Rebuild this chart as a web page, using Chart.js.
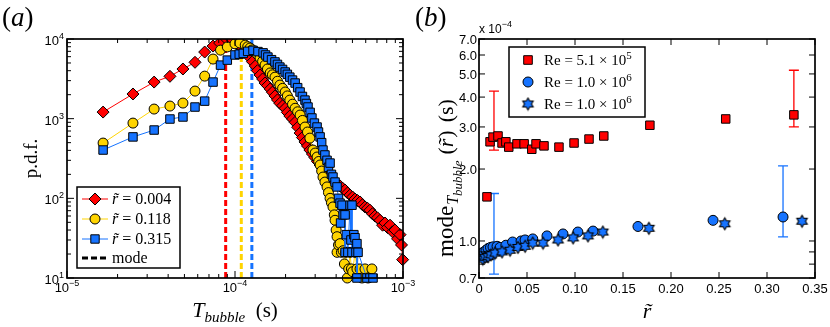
<!DOCTYPE html>
<html>
<head>
  <title>Bubble duration pdf and mode</title>
  <script src="https://cdn.jsdelivr.net/npm/chart.js"></script>
  <style>
    body { margin: 0; background: #fff; }
    #wrap { position: relative; width: 830px; height: 327px; overflow: hidden; }
    canvas { position: absolute; top: 0; }
    #chart-a { left: 0; }
    #chart-b { left: 415px; }
  </style>
</head>
<body>
<div id="wrap">
  <canvas id="chart-a" width="430" height="327"></canvas>
  <canvas id="chart-b" width="415" height="327"></canvas>
</div>
<script>
// ---------- panel (a): p.d.f. of T_bubble ----------
const redT = [1.64e-5, 2.47e-5, 3.30e-5, 4.10e-5, 4.90e-5, 5.78e-5, 6.60e-5, 7.40e-5, 8.10e-5, 8.80e-5,
  9.60e-5, 1.03e-4, 1.09e-4, 1.15e-4, 1.19e-4, 1.23e-4, 1.27e-4, 1.32e-4, 1.36e-4, 1.41e-4,
  1.46e-4, 1.51e-4, 1.56e-4, 1.62e-4, 1.67e-4, 1.73e-4, 1.79e-4, 1.85e-4, 1.92e-4, 1.99e-4,
  2.05e-4, 2.12e-4, 2.20e-4, 2.28e-4, 2.36e-4, 2.44e-4, 2.52e-4, 2.61e-4, 2.70e-4, 2.79e-4,
  2.89e-4, 2.99e-4, 3.10e-4, 3.21e-4, 3.32e-4, 3.43e-4, 3.55e-4, 3.68e-4, 3.81e-4, 3.94e-4,
  4.08e-4, 4.22e-4, 4.37e-4, 4.52e-4, 4.68e-4, 4.84e-4, 5.01e-4, 5.18e-4, 5.36e-4, 5.55e-4,
  5.74e-4, 5.94e-4, 6.15e-4, 6.36e-4, 6.58e-4, 6.81e-4, 7.05e-4, 7.30e-4, 7.56e-4, 7.82e-4,
  8.09e-4, 8.37e-4, 8.66e-4, 8.96e-4, 9.28e-4, 9.60e-4, 9.80e-4, 9.95e-4];
const redPdf = [1210, 2040, 2880, 3400, 4200, 5100, 6860, 8150, 8900, 10200,
  9800, 8600, 7900, 7250, 6400, 5800, 5200, 4580, 4000, 3530,
  3150, 2800, 2600, 2360, 2150, 1930, 1720, 1560, 1450, 1350,
  1200, 1080, 990, 900, 780, 660, 580, 510, 455, 404,
  360, 325, 290, 262, 236, 215, 195, 180, 166, 156,
  150, 143, 134, 127, 117, 110, 104, 98, 94, 90,
  83, 78, 75, 71, 64, 60, 57, 53, 46, 49,
  43, 46, 38, 40, 31, 35, 26, 17];

const yelT = [1.64e-5, 2.47e-5, 3.30e-5, 4.10e-5, 4.90e-5, 5.78e-5, 6.60e-5, 7.40e-5, 8.20e-5, 9.00e-5,
  1.00e-4, 1.07e-4, 1.15e-4, 1.19e-4, 1.23e-4, 1.27e-4, 1.32e-4, 1.36e-4, 1.41e-4, 1.46e-4,
  1.51e-4, 1.56e-4, 1.62e-4, 1.67e-4, 1.73e-4, 1.79e-4, 1.85e-4, 1.92e-4, 1.99e-4, 2.05e-4,
  2.12e-4, 2.20e-4, 2.28e-4, 2.36e-4, 2.44e-4, 2.52e-4, 2.61e-4, 2.70e-4, 2.79e-4, 2.91e-4,
  3.00e-4, 3.08e-4, 3.15e-4, 3.21e-4, 3.28e-4, 3.34e-4, 3.43e-4, 3.53e-4, 3.60e-4, 3.68e-4,
  3.75e-4, 3.83e-4, 3.90e-4, 3.94e-4, 4.00e-4, 4.05e-4, 4.05e-4, 4.13e-4, 4.22e-4, 4.30e-4,
  4.40e-4, 4.48e-4, 4.57e-4, 4.66e-4, 4.75e-4, 4.84e-4, 4.93e-4, 5.02e-4, 5.18e-4, 5.32e-4,
  5.55e-4, 5.70e-4, 5.94e-4, 6.19e-4, 6.53e-4];
const yelPdf = [494, 880, 1320, 1440, 1570, 2220, 3420, 5600, 7250, 7950,
  8700, 8900, 8380, 8000, 7700, 7300, 6950, 6400, 5800, 5250,
  4710, 4200, 3750, 3550, 3320, 2950, 2640, 2400, 2160, 1930,
  1710, 1520, 1350, 1220, 1110, 950, 785, 680, 570, 404,
  370, 330, 290, 262, 220, 185, 160, 139, 118, 100,
  88, 78, 62, 53, 40, 33, 21, 26, 27, 21,
  22, 15, 21, 10, 13, 21, 13, 12, 21, 13,
  13, 10, 13, 10, 13];

const bluT = [1.64e-5, 2.47e-5, 3.30e-5, 4.10e-5, 4.90e-5, 5.78e-5, 6.60e-5, 7.40e-5, 8.20e-5, 9.00e-5,
  1.00e-4, 1.06e-4, 1.12e-4, 1.19e-4, 1.28e-4, 1.37e-4, 1.47e-4, 1.52e-4, 1.57e-4, 1.65e-4,
  1.73e-4, 1.79e-4, 1.85e-4, 1.92e-4, 1.99e-4, 2.05e-4, 2.12e-4, 2.20e-4, 2.28e-4, 2.36e-4,
  2.44e-4, 2.52e-4, 2.61e-4, 2.66e-4, 2.72e-4, 2.80e-4, 2.87e-4, 2.97e-4, 3.08e-4, 3.14e-4,
  3.21e-4, 3.28e-4, 3.34e-4, 3.43e-4, 3.53e-4, 3.60e-4, 3.68e-4, 3.75e-4, 3.83e-4, 3.94e-4,
  4.05e-4, 4.13e-4, 4.22e-4, 4.25e-4, 4.34e-4, 4.40e-4, 4.52e-4, 4.52e-4, 4.60e-4, 4.70e-4,
  4.84e-4, 4.90e-4, 4.97e-4, 4.97e-4, 5.10e-4, 5.18e-4, 5.25e-4, 5.32e-4, 5.32e-4, 5.40e-4,
  6.10e-4, 6.63e-4];
const bluPdf = [404, 590, 720, 990, 1050, 1400, 1660, 2880, 4700, 5430,
  6300, 6450, 6600, 7000, 7200, 6950, 6700, 6300, 5930, 5500,
  5150, 4800, 4440, 4150, 3850, 3600, 3320, 3050, 2800, 2450,
  2160, 1900, 1710, 1550, 1400, 1200, 1020, 880, 785, 680,
  590, 500, 404, 350, 300, 245, 277, 200, 185, 160,
  139, 100, 87, 49, 82, 62, 62, 21, 35, 21,
  82, 30, 82, 21, 35, 32, 21, 27, 10, 21,
  10, 10];

const rTildeLabels = ['0.004', '0.118', '0.315'];
const modeT = [8.8e-5, 1.09e-4, 1.26e-4];        // dashed "mode" lines
const xTicksA = [1e-5, 1e-4, 1e-3];
const xExpA = ['\u22125', '\u22124', '\u22123'];
const yTicksA = [10, 100, 1000, 10000];
const yExpA = ['1', '2', '3', '4'];

// ---------- panel (b): mode vs r~ (units of 1e-4 s) ----------
const sqX = [0.0083, 0.0115, 0.0146, 0.0198, 0.024, 0.028, 0.031, 0.0396, 0.047, 0.055,
  0.0594, 0.0677, 0.0833, 0.099, 0.1146, 0.130, 0.178, 0.257, 0.328];
const sqY = [1.53, 2.60, 2.72, 2.75, 2.57, 2.60, 2.47, 2.55, 2.55, 2.42,
  2.55, 2.50, 2.47, 2.57, 2.67, 2.75, 3.05, 3.24, 3.37];
const circX = [0.003, 0.005, 0.0073, 0.0094, 0.012, 0.0146, 0.0188, 0.022, 0.028, 0.035,
  0.0438, 0.048, 0.056, 0.0708, 0.0875, 0.103, 0.1188, 0.1656, 0.2438, 0.3167];
const circY = [0.89, 0.90, 0.915, 0.93, 0.94, 0.945, 0.95, 0.94, 0.96, 0.99,
  1.00, 1.01, 1.02, 1.05, 1.07, 1.09, 1.10, 1.15, 1.22, 1.26];
const starX = [0.004, 0.0063, 0.0094, 0.0125, 0.0167, 0.024, 0.0323, 0.0406, 0.048, 0.056,
  0.0667, 0.0823, 0.098, 0.1135, 0.129, 0.177, 0.256, 0.3365];
const starY = [0.84, 0.855, 0.86, 0.875, 0.89, 0.90, 0.915, 0.94, 0.95, 0.98,
  0.98, 1.01, 1.03, 1.05, 1.09, 1.13, 1.18, 1.21];
const redErrX = [0.0156, 0.328], redErrLo = [2.40, 3.00], redErrHi = [4.24, 5.18];
const bluErrX = [0.0156, 0.3167], bluErrLo = [0.727, 1.04], bluErrHi = [1.58, 2.06];
const reLabels = [['5.1', '5'], ['1.0', '6'], ['1.0', '6']];
const xTicksB = [0, 0.05, 0.10, 0.15, 0.20, 0.25, 0.30, 0.35];
const xLabB = ['0', '0.05', '0.10', '0.15', '0.20', '0.25', '0.30', '0.35'];
const yTicksB = [0.7, 1.0, 2.0, 3.0, 4.0, 5.0, 6.0, 7.0];
const yMinorB = [0.8, 0.9];

const RED = '#ff0000', YEL = '#ffd400', BLU = '#1673ff';
const SANS = 'Liberation Sans, Arial, sans-serif';
const SERIF = 'Liberation Serif, DejaVu Serif, serif';

const pts = (xs, ys) => xs.map((x, i) => ({x: x, y: ys[i]}));

// six-pointed star marker
function makeStar(R) {
  const c = document.createElement('canvas');
  const s = Math.ceil(2 * R + 3);
  c.width = s; c.height = s;
  const g = c.getContext('2d');
  g.beginPath();
  for (let k = 0; k < 12; k++) {
    const a = -Math.PI / 2 + k * Math.PI / 6;
    const r = k % 2 === 0 ? R : R / Math.sqrt(3);
    const px = s / 2 + r * Math.cos(a), py = s / 2 + r * Math.sin(a);
    k === 0 ? g.moveTo(px, py) : g.lineTo(px, py);
  }
  g.closePath();
  g.fillStyle = BLU; g.fill();
  g.lineWidth = 1.1; g.strokeStyle = '#000'; g.stroke();
  return c;
}
const starImg = makeStar(6);

function mark(ctx, style, x, y, r, fill) {
  ctx.save();
  ctx.fillStyle = fill; ctx.strokeStyle = '#000'; ctx.lineWidth = 1;
  ctx.beginPath();
  if (style === 'diamond') {
    ctx.moveTo(x, y - r); ctx.lineTo(x + r, y); ctx.lineTo(x, y + r); ctx.lineTo(x - r, y); ctx.closePath();
  } else if (style === 'circle') {
    ctx.arc(x, y, r, 0, 2 * Math.PI);
  } else {
    ctx.rect(x - r, y - r, 2 * r, 2 * r);
  }
  ctx.fill(); ctx.stroke();
  ctx.restore();
}

// draws a run of [text, font, dy] pieces on one baseline
function runs(ctx, parts, x, y, align) {
  let w = 0;
  parts.forEach(p => { ctx.font = p[1]; w += ctx.measureText(p[0]).width + (p[3] || 0); });
  let cx = align === 'center' ? x - w / 2 : (align === 'right' ? x - w : x);
  ctx.textAlign = 'left'; ctx.textBaseline = 'alphabetic';
  parts.forEach(p => { ctx.font = p[1]; ctx.fillText(p[0], cx, y + (p[2] || 0)); cx += ctx.measureText(p[0]).width + (p[3] || 0); });
}

function frame(ctx, a) {
  ctx.save();
  ctx.strokeStyle = '#000'; ctx.lineWidth = 1.7;
  ctx.strokeRect(a.left, a.top, a.right - a.left, a.bottom - a.top);
  ctx.restore();
}

function tickX(ctx, a, px, len) {
  ctx.beginPath();
  ctx.moveTo(px, a.bottom); ctx.lineTo(px, a.bottom - len);
  ctx.moveTo(px, a.top); ctx.lineTo(px, a.top + len);
  ctx.stroke();
}
function tickY(ctx, a, py, len) {
  ctx.beginPath();
  ctx.moveTo(a.left, py); ctx.lineTo(a.left + len, py);
  ctx.moveTo(a.right, py); ctx.lineTo(a.right - len, py);
  ctx.stroke();
}

// ---------- panel (a) decorations ----------
const decoA = {
  id: 'decoA',
  afterDraw(chart) {
    const ctx = chart.ctx, a = chart.chartArea;
    const xs = chart.scales.x, ys = chart.scales.y;
    frame(ctx, a);
    ctx.save();
    ctx.strokeStyle = '#000'; ctx.lineWidth = 1;
    for (let d = -5; d < -3 + 1; d++) {
      for (let m = 1; m < 10; m++) {
        const v = m * Math.pow(10, d);
        if (v > 1.0001e-3) break;
        tickX(ctx, a, xs.getPixelForValue(v), m === 1 ? 7 : 4);
      }
    }
    for (let d = 1; d <= 4; d++) {
      for (let m = 1; m < 10; m++) {
        const v = m * Math.pow(10, d);
        if (v > 10001) break;
        tickY(ctx, a, ys.getPixelForValue(v), m === 1 ? 7 : 4);
      }
    }
    ctx.fillStyle = '#000';
    xTicksA.forEach((v, i) => {
      const px = xs.getPixelForValue(v);
      runs(ctx, [['10', '13px ' + SANS, 0], [xExpA[i], '9px ' + SANS, -6]], px, a.bottom + 14, 'center');
    });
    yTicksA.forEach((v, i) => {
      const py = ys.getPixelForValue(v);
      runs(ctx, [['10', '13px ' + SANS, 0], [yExpA[i], '9px ' + SANS, -6]], a.left - 3, py + 6, 'right');
    });
    // titles
    runs(ctx, [['(', '27px ' + SERIF, 0], ['a', 'italic 27px ' + SERIF, 0], [')', '27px ' + SERIF, 0]], 2, 26, 'left');
    runs(ctx, [['T', 'italic 22px ' + SERIF, 0], ['bubble', 'italic 15px ' + SERIF, 5], ['  (s)', '21px ' + SERIF, 0]],
      (a.left + a.right) / 2, 317, 'center');
    ctx.save();
    ctx.translate(37, (a.top + a.bottom) / 2);
    ctx.rotate(-Math.PI / 2);
    runs(ctx, [['p.d.f.', '19px ' + SERIF, 0]], 0, 0, 'center');
    ctx.restore();
    // legend
    const L = 77, T = 187, R = 180, B = 268;
    ctx.fillStyle = '#fff'; ctx.fillRect(L, T, R - L, B - T);
    ctx.lineWidth = 1.5; ctx.strokeStyle = '#000'; ctx.strokeRect(L, T, R - L, B - T);
    const rows = [199, 219, 239];
    const cols = [RED, YEL, BLU], shapes = ['diamond', 'circle', 'square'], rr = [6, 5, 4.2];
    rows.forEach((ry, i) => {
      ctx.strokeStyle = cols[i]; ctx.lineWidth = 1;
      ctx.beginPath(); ctx.moveTo(82, ry); ctx.lineTo(108, ry); ctx.stroke();
      mark(ctx, shapes[i], 95, ry, rr[i], cols[i]);
      ctx.fillStyle = '#000';
      runs(ctx, [['r\u0303', 'italic 16px ' + SERIF, 0], [' = ' + rTildeLabels[i], '16px ' + SERIF, 0]], 112, ry + 5, 'left');
    });
    ctx.strokeStyle = '#000'; ctx.lineWidth = 3; ctx.setLineDash([6, 3]);
    ctx.beginPath(); ctx.moveTo(82, 258); ctx.lineTo(108, 258); ctx.stroke();
    ctx.setLineDash([]);
    ctx.fillStyle = '#000';
    runs(ctx, [['mode', '16px ' + SERIF, 0]], 112, 263, 'left');
    ctx.restore();
  }
};

const modeColors = [RED, YEL, BLU];
const modeSets = modeT.map((t, i) => ({
  data: [{x: t, y: 10}, {x: t, y: 10000}],
  borderColor: modeColors[i], borderWidth: 3, borderDash: [6, 3],
  pointRadius: 0, order: 10, clip: 0
}));

new Chart(document.getElementById('chart-a'), {
  type: 'line',
  data: {
    datasets: [
      { data: pts(redT, redPdf), borderColor: RED, borderWidth: 1, backgroundColor: RED,
        pointStyle: 'rectRot', pointRadius: 6, pointBorderColor: '#000', pointBorderWidth: 1, order: 3 },
      { data: pts(yelT, yelPdf), borderColor: YEL, borderWidth: 1, backgroundColor: YEL,
        pointStyle: 'circle', pointRadius: 5, pointBorderColor: '#000', pointBorderWidth: 1, order: 2 },
      { data: pts(bluT, bluPdf), borderColor: BLU, borderWidth: 1, backgroundColor: BLU,
        pointStyle: 'rect', pointRadius: 6, pointBorderColor: '#000', pointBorderWidth: 1, order: 1 }
    ].map(d => Object.assign(d, { clip: {left: false, right: false, top: 0, bottom: false} })).concat(modeSets)
  },
  options: {
    responsive: false, animation: false, devicePixelRatio: 1,
    layout: { padding: { left: 0, right: 27, top: 39, bottom: 0 } },
    plugins: { legend: { display: false }, tooltip: { enabled: false } },
    scales: {
      x: { type: 'logarithmic', min: 1e-5, max: 1e-3,
           grid: { display: false, drawTicks: false }, border: { display: false },
           ticks: { display: false }, afterFit: s => { s.height = 49; } },
      y: { type: 'logarithmic', min: 10, max: 10000,
           grid: { display: false, drawTicks: false }, border: { display: false },
           ticks: { display: false }, afterFit: s => { s.width = 67; } }
    }
  },
  plugins: [decoA]
});

// ---------- panel (b) decorations ----------
const decoB = {
  id: 'decoB',
  beforeDatasetsDraw(chart) {
    // error bars drawn through the chart scales
    const ctx = chart.ctx, xs = chart.scales.x, ys = chart.scales.y;
    const bars = [[redErrX, redErrLo, redErrHi, RED], [bluErrX, bluErrLo, bluErrHi, BLU]];
    ctx.save();
    ctx.lineWidth = 1.3;
    bars.forEach(b => {
      ctx.strokeStyle = b[3];
      b[0].forEach((x, i) => {
        const px = xs.getPixelForValue(x), p1 = ys.getPixelForValue(b[1][i]), p2 = ys.getPixelForValue(b[2][i]);
        ctx.beginPath();
        ctx.moveTo(px, p1); ctx.lineTo(px, p2);
        ctx.moveTo(px - 5, p1); ctx.lineTo(px + 5, p1);
        ctx.moveTo(px - 5, p2); ctx.lineTo(px + 5, p2);
        ctx.stroke();
      });
    });
    ctx.restore();
  },
  afterDraw(chart) {
    const ctx = chart.ctx, a = chart.chartArea;
    const xs = chart.scales.x, ys = chart.scales.y;
    frame(ctx, a);
    ctx.save();
    ctx.strokeStyle = '#000'; ctx.lineWidth = 1;
    xTicksB.forEach(v => tickX(ctx, a, xs.getPixelForValue(v), 6));
    yTicksB.concat(yMinorB).forEach(v => tickY(ctx, a, ys.getPixelForValue(v), 6));
    ctx.fillStyle = '#000';
    xTicksB.forEach((v, i) => runs(ctx, [[xLabB[i], '13px ' + SANS, 0]], xs.getPixelForValue(v), a.bottom + 15, 'center'));
    yTicksB.forEach(v => runs(ctx, [[v.toFixed(1), '13px ' + SANS, 0]], a.left - 2, ys.getPixelForValue(v) + 5, 'right'));
    runs(ctx, [['x 10', '12px ' + SANS, 0], ['\u22124', '9px ' + SANS, -6]], a.left, 33, 'left');
    runs(ctx, [['(', '27px ' + SERIF, 0], ['b', 'italic 27px ' + SERIF, 0], [')', '27px ' + SERIF, 0]], 0, 26, 'left');
    runs(ctx, [['r\u0303', 'italic 22px ' + SERIF, 0]], (a.left + a.right) / 2, 318, 'center');
    ctx.save();
    ctx.translate(38, 178);
    ctx.rotate(-Math.PI / 2);
    runs(ctx, [['mode', '23px ' + SERIF, 0, 1], ['T', 'italic 16px ' + SERIF, 5, 0], ['bubble', 'italic 13px ' + SERIF, 9, 6],
      ['(', '22px ' + SERIF, 0], ['r\u0303', 'italic 22px ' + SERIF, 0, 1], [')', '22px ' + SERIF, 0, 8], ['(s)', '22px ' + SERIF, 0]],
      0, 0, 'center');
    ctx.restore();
    // legend
    const L = 94, T = 47, R = 230, B = 117;
    ctx.fillStyle = '#fff'; ctx.fillRect(L, T, R - L, B - T);
    ctx.lineWidth = 1.5; ctx.strokeStyle = '#000'; ctx.strokeRect(L, T, R - L, B - T);
    const rows = [60, 82, 104];
    mark(ctx, 'square', 113, rows[0], 4.3, RED);
    mark(ctx, 'circle', 113, rows[1], 5, BLU);
    ctx.drawImage(starImg, 113 - starImg.width / 2, rows[2] - starImg.height / 2);
    ctx.fillStyle = '#000';
    rows.forEach((ry, i) => {
      runs(ctx, [['Re = ' + reLabels[i][0] + ' \u00d7 10', '15px ' + SERIF, 0], [reLabels[i][1], '11px ' + SERIF, -6]], 129, ry + 5, 'left');
    });
    ctx.restore();
  }
};

new Chart(document.getElementById('chart-b'), {
  type: 'scatter',
  data: {
    datasets: [
      { data: pts(starX, starY), pointStyle: starImg, order: 1 },
      { data: pts(circX, circY), pointStyle: 'circle', pointRadius: 5, backgroundColor: BLU,
        borderColor: '#000', borderWidth: 1, order: 2 },
      { data: pts(sqX, sqY), pointStyle: 'rect', pointRadius: 6, backgroundColor: RED,
        borderColor: '#000', borderWidth: 1, order: 3 }
    ]
  },
  options: {
    responsive: false, animation: false, devicePixelRatio: 1,
    layout: { padding: { left: 0, right: 15, top: 39, bottom: 0 } },
    plugins: { legend: { display: false }, tooltip: { enabled: false } },
    scales: {
      x: { type: 'linear', min: 0, max: 0.35,
           grid: { display: false, drawTicks: false }, border: { display: false },
           ticks: { display: false }, afterFit: s => { s.height = 49; } },
      y: { type: 'logarithmic', min: 0.7, max: 7.0,
           grid: { display: false, drawTicks: false }, border: { display: false },
           ticks: { display: false }, afterFit: s => { s.width = 64; } }
    }
  },
  plugins: [decoB]
});
</script>
</body>
</html>
